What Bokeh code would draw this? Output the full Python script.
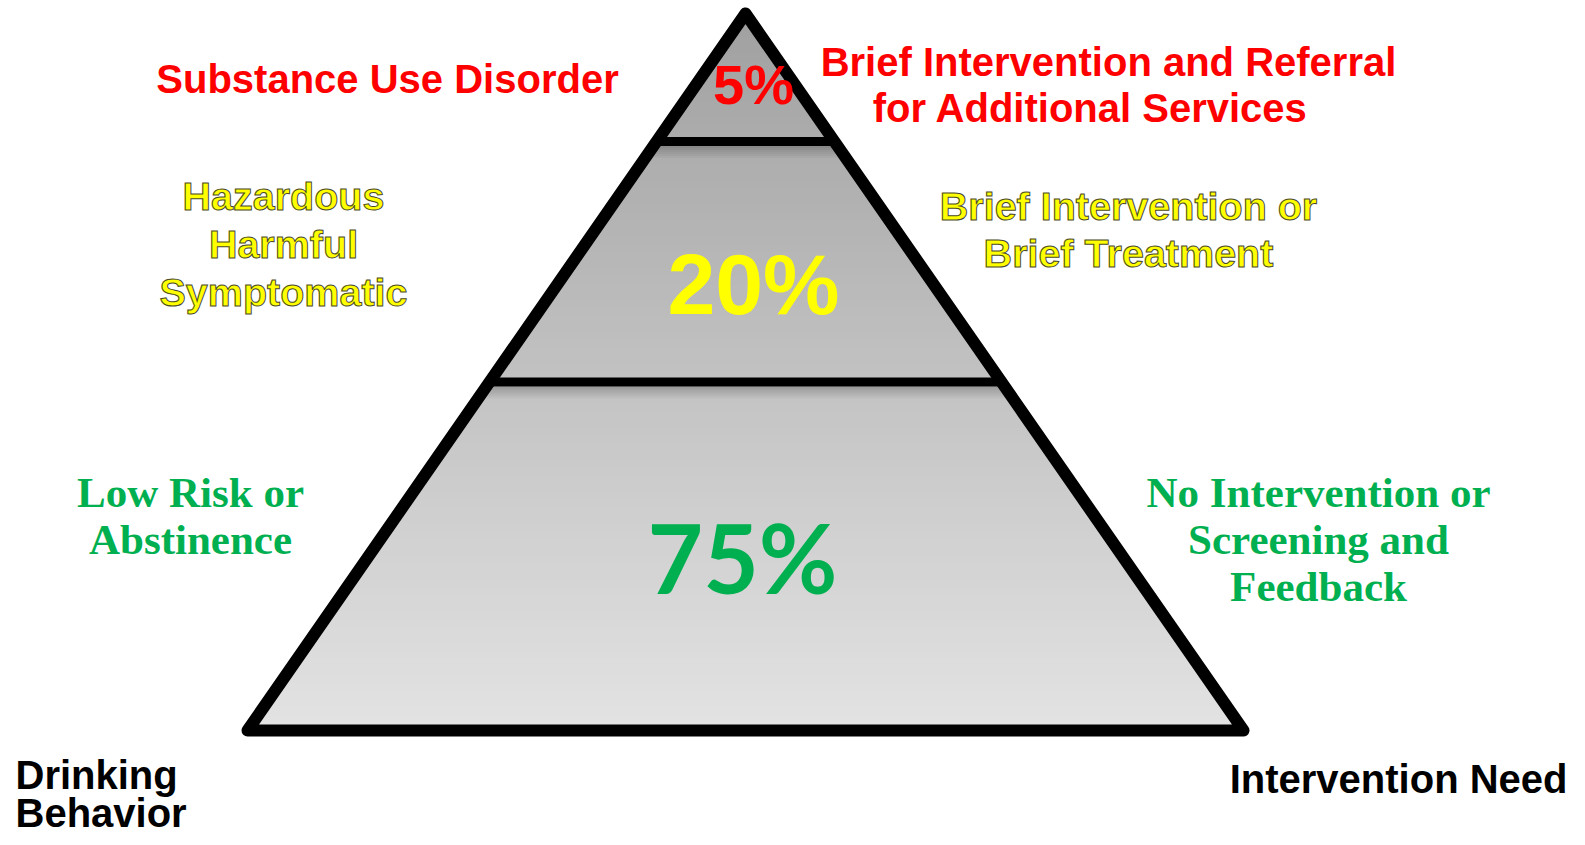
from bokeh.plotting import figure
from bokeh.models import Range1d
from bokeh.embed import file_html
from bokeh.resources import INLINE
from bokeh.core.properties import value

# ---------------- data ----------------
percents = [5, 20, 75]
pct_labels = [f"{v}%" for v in percents]
tier_colors = ["#ff0000", "#ffff00", "#00b050"]
behavior_lines = [["Substance Use Disorder"],
                  ["Hazardous", "Harmful", "Symptomatic"],
                  ["Low Risk or", "Abstinence"]]
need_lines = [["Brief Intervention and Referral", "for Additional Services"],
              ["Brief Intervention or", "Brief Treatment"],
              ["No Intervention or", "Screening and", "Feedback"]]
corner_left = ["Drinking", "Behavior"]
corner_right = ["Intervention Need"]

# ---------------- layout (screenshot pixels) ----------------
W, H = 1569, 837
APEX_X, APEX_Y = 745, 13
HALF_BASE, TRI_H = 498, 717
TIER_SPLITS = [0.1785, 0.5140]  # fraction of height from apex

p = figure(width=W, height=H, output_backend="svg", toolbar_location=None,
           x_range=Range1d(0, W), y_range=Range1d(H, 0),
           min_border=0)
p.axis.visible = False
p.grid.visible = False
p.outline_line_color = None
p.background_fill_color = "white"


def half_w(t):
    return t * HALF_BASE


def ypx(t):
    return APEX_Y + t * TRI_H


# gradient fill in thin strips
N = 90
xs, ys, cols = [], [], []
for i in range(N):
    t0, t1 = i / N, (i + 1) / N
    t1e = min(1.0, t1 + 0.002)
    xs.append([APEX_X - half_w(t0), APEX_X + half_w(t0), APEX_X + half_w(t1e), APEX_X - half_w(t1e)])
    ys.append([ypx(t0), ypx(t0), ypx(t1e), ypx(t1e)])
    tm = (t0 + t1) / 2
    g = int(round(160 + tm * 67))
    cols.append("#%02x%02x%02x" % (g, g, g))
p.patches(xs, ys, fill_color=cols, line_color=None)

# soft shadow below each divider
sxs, sys_, salpha = [], [], []
for t in TIER_SPLITS:
    y0 = ypx(t) + 4.5
    steps = 6
    for k in range(steps):
        ya, yb = y0 + k * 2, y0 + (k + 1) * 2
        ta, tb = (ya - APEX_Y) / TRI_H, (yb - APEX_Y) / TRI_H
        sxs.append([APEX_X - half_w(ta), APEX_X + half_w(ta), APEX_X + half_w(tb), APEX_X - half_w(tb)])
        sys_.append([ya, ya, yb, yb])
        salpha.append(0.2 * (1 - k / steps))
p.patches(sxs, sys_, fill_color="black", fill_alpha=salpha, line_color=None)

# dividers
p.segment(x0=[APEX_X - half_w(t) for t in TIER_SPLITS], x1=[APEX_X + half_w(t) for t in TIER_SPLITS],
          y0=[ypx(t) for t in TIER_SPLITS], y1=[ypx(t) for t in TIER_SPLITS],
          line_color="black", line_width=9)

# outline
p.patch(x=[APEX_X - HALF_BASE, APEX_X, APEX_X + HALF_BASE], y=[APEX_Y + TRI_H, APEX_Y, APEX_Y + TRI_H],
        fill_alpha=0, line_color="black", line_width=12, line_join="round")

ARIAL = value("Liberation Sans")
SERIF = value("Liberation Serif")

# percentages
pct_pos = [(753, 84), (753, 283), (742, 556)]
pct_fonts = [ARIAL, ARIAL, value("Lato")]
pct_sizes = ["56px", "86px", "96px"]
for lab, (x, y), f, s, c in zip(pct_labels, pct_pos, pct_fonts, pct_sizes, tier_colors):
    p.text(x=[x], y=[y], text=[lab], text_font=f, text_font_size=s, text_font_style="bold",
           text_color=c, text_align="center", text_baseline="middle")

# behavior labels (left) and intervention labels (right)
beh_pos = [[(387, 78)], [(283, 195), (283, 243), (283, 291)], [(190, 492), (190, 539)]]
need_pos = [[(1108, 61), (1090, 107)], [(1128, 205), (1128, 252)],
            [(1318, 492), (1318, 539), (1318, 586)]]
fonts = [ARIAL, ARIAL, SERIF]
sizes = ["40px", "39.5px", "43px"]
outlines = [None, "#4a4a2a", None]
for tier in range(3):
    for lines, poss in ((behavior_lines[tier], beh_pos[tier]), (need_lines[tier], need_pos[tier])):
        kw = dict(text_font=fonts[tier], text_font_size=sizes[tier], text_font_style="bold",
                  text_color=tier_colors[tier], text_align="center", text_baseline="middle")
        if outlines[tier]:
            kw["text_outline_color"] = outlines[tier]
        p.text(x=[q[0] for q in poss], y=[q[1] for q in poss], text=lines, **kw)

# corner labels
p.text(x=[15, 15], y=[774, 812], text=corner_left, text_font=ARIAL, text_font_size="40px",
       text_font_style="bold", text_color="black", text_align="left", text_baseline="middle")
p.text(x=[1567], y=[778], text=corner_right, text_font=ARIAL, text_font_size="40px",
       text_font_style="bold", text_color="black", text_align="right", text_baseline="middle")

open("out.html", "w").write(file_html(p, INLINE))
